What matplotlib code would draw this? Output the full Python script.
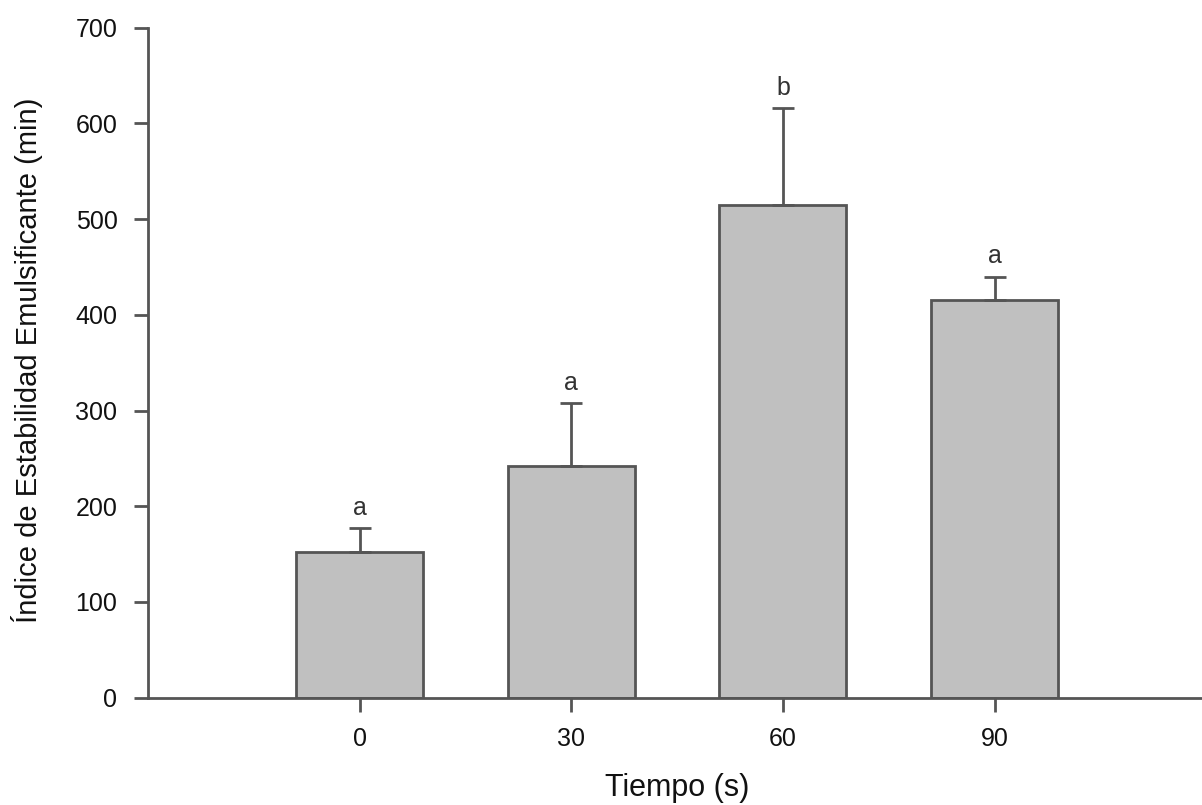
import matplotlib.pyplot as plt

# data
tiempos = ['0', '30', '60', '90']
indice = [152, 242, 515, 415]
error_sup = [25, 66, 101, 25]
letras = ['a', 'a', 'b', 'a']

plt.rcParams['font.family'] = ['Liberation Sans', 'DejaVu Sans']

fig = plt.figure(figsize=(12.02, 8.05), dpi=100)
ax = fig.add_axes([0.1231, 0.1333, 0.8769, 0.8323])

gris = '#555555'
x = range(len(tiempos))

ax.bar(x, indice, width=0.6, color='#c0c0c0', edgecolor=gris, linewidth=2, zorder=2)
ax.errorbar(x, indice, yerr=[[0] * len(indice), error_sup], fmt='none',
            ecolor=gris, elinewidth=2, capsize=8, capthick=2, zorder=3)

for i, (v, e, l) in enumerate(zip(indice, error_sup, letras)):
    ax.annotate(l, (i, v + e), xytext=(0, 6), textcoords='offset points',
                ha='center', va='bottom', fontsize=18, color='#333333')

ax.set_xlim(-1, 3.98)
ax.set_ylim(0, 700)
ax.set_xticks(list(x))
ax.set_xticklabels(tiempos)
ax.set_yticks(range(0, 701, 100))

for s in ['top', 'right']:
    ax.spines[s].set_visible(False)
for s in ['left', 'bottom']:
    ax.spines[s].set_color(gris)
    ax.spines[s].set_linewidth(2)

ax.tick_params(axis='both', direction='out', length=10, width=2, color=gris,
               labelsize=18, labelcolor='#111111')
ax.tick_params(axis='y', pad=12)
ax.tick_params(axis='x', pad=11)

ax.set_xlabel('Tiempo (s)', fontsize=22, color='#111111')
ax.set_ylabel('Índice de Estabilidad Emulsificante (min)', fontsize=21, color='#111111')
ax.xaxis.set_label_coords(0.502, -0.112)
ax.yaxis.set_label_coords(-0.1, 0.503)

fig.savefig('out.png', dpi=100)
